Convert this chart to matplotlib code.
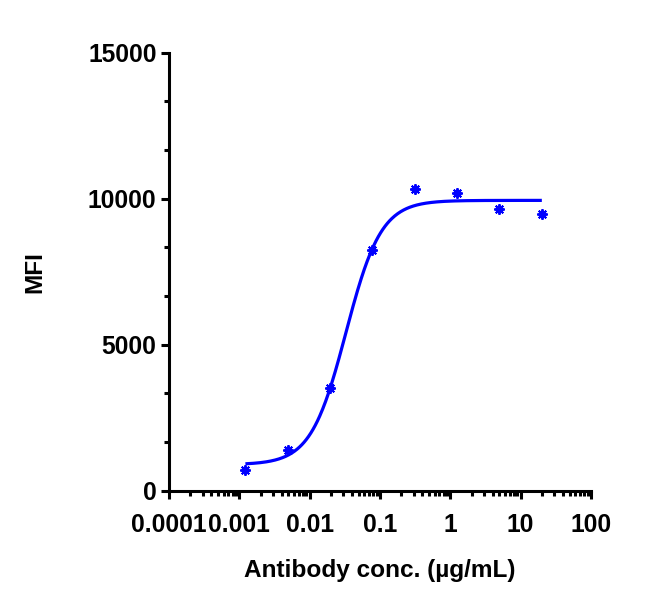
import numpy as np
import matplotlib
matplotlib.use("Agg")
import matplotlib.pyplot as plt
from matplotlib.ticker import LogLocator, MultipleLocator, FixedLocator, NullFormatter

# Data
conc = [0.00122, 0.00488, 0.01953, 0.078125, 0.3125, 1.25, 5.0, 20.0]
mfi = [710, 1396, 3499, 8257, 10326, 10178, 9650, 9478]

# 4PL fit parameters
fit_bottom = 885
fit_top = 9940
fit_ec50 = 0.0328
fit_hill = 1.735

x_ticks = [0.0001, 0.001, 0.01, 0.1, 1, 10, 100]
x_tick_labels = ["0.0001", "0.001", "0.01", "0.1", "1", "10", "100"]
y_ticks = [0, 5000, 10000, 15000]

plt.rcParams['font.family'] = ['Liberation Sans', 'DejaVu Sans']
plt.rcParams['font.weight'] = 'bold'

fig = plt.figure(figsize=(6.68, 6.12), dpi=100)
ax = fig.add_axes([169/668, 1 - 490.5/612, (591 - 169)/668, (490.5 - 52.7)/612])

xc = np.logspace(np.log10(min(conc)), np.log10(max(conc)), 400)
yc = fit_bottom + (fit_top - fit_bottom) / (1 + (fit_ec50 / xc) ** fit_hill)
ax.plot(xc, yc, color='#0000ff', lw=2.3, solid_capstyle='butt', zorder=3)
ax.plot(conc, mfi, linestyle='none', marker=(8, 2, 0), markersize=7.5,
        markeredgewidth=1.4, color='#0000ff', zorder=4, clip_on=False)

ax.set_xscale('log')
ax.set_xlim(0.0001, 100)
ax.set_ylim(0, 15000)

ax.xaxis.set_major_locator(FixedLocator(x_ticks))
ax.set_xticklabels(x_tick_labels)
ax.xaxis.set_minor_locator(LogLocator(base=10, subs=np.arange(2, 10), numticks=100))
ax.xaxis.set_minor_formatter(NullFormatter())
ax.set_yticks(y_ticks)
ax.set_yticklabels([str(v) for v in y_ticks])
ax.yaxis.set_minor_locator(MultipleLocator(5000/3))

for s in ['top', 'right']:
    ax.spines[s].set_visible(False)
for s in ['left', 'bottom']:
    ax.spines[s].set_linewidth(2.2)

ax.tick_params(axis='both', which='major', length=6, width=2.2, labelsize=17.7)
ax.tick_params(axis='x', which='major', pad=10)
ax.tick_params(axis='y', which='major', pad=3)
ax.tick_params(axis='both', which='minor', length=3.5, width=2.2)
for lab in ax.get_xticklabels() + ax.get_yticklabels():
    lab.set_fontweight('bold')

ax.set_xlabel("Antibody conc. (µg/mL)", fontsize=17.6, fontweight='bold', labelpad=16)
ax.set_ylabel("MFI", fontsize=17.6, fontweight='bold', labelpad=30)

fig.savefig("out.png", dpi=100)
